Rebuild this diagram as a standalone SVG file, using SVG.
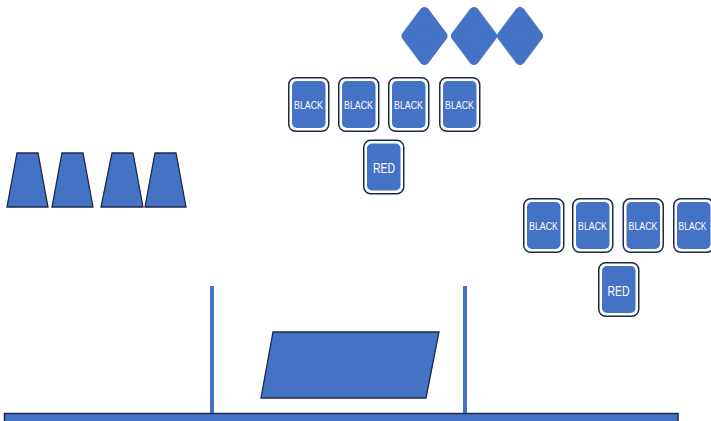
<svg xmlns="http://www.w3.org/2000/svg" width="711" height="421" viewBox="0 0 711 421">
  <style>
    .frame { fill: #ffffff; stroke: #1c2a4a; stroke-width: 1.5; }
    .face { fill: #4472c4; }
    .lbl { fill: #ffffff; font-family: "Liberation Sans", "DejaVu Sans", sans-serif; text-anchor: middle; }
    .small { font-size: 11px; }
    .big { font-size: 14px; }
    .cup { fill: #4472c4; stroke: #1c2a4a; stroke-width: 1.3; }
    .gem { fill: #4472c4; stroke: #4472c4; stroke-width: 10; stroke-linejoin: round; }
    .post { stroke: #4472c4; stroke-width: 4; }
  </style>
  <defs>
    <g id="card">
      <rect class="frame" x="0.75" y="0.75" width="40" height="53.5" rx="7"/>
      <rect class="face" x="4" y="4" width="33.5" height="47" rx="5"/>
    </g>
  </defs>

  <!-- diamonds -->
  <g id="diamonds">
    <polygon class="gem" points="424.5,12 442.5,36 424.5,60 406.5,36"/>
    <polygon class="gem" points="474,12 492,36 474,60 456,36"/>
    <polygon class="gem" points="520,12 538,36 520,60 502,36"/>
  </g>

  <!-- upper card row -->
  <g id="card-top-1"><use href="#card" x="288" y="77"/><text class="lbl small" x="308.5" y="108.5" textLength="29" lengthAdjust="spacingAndGlyphs">BLACK</text></g>
  <g id="card-top-2"><use href="#card" x="338" y="77"/><text class="lbl small" x="358.5" y="108.5" textLength="29" lengthAdjust="spacingAndGlyphs">BLACK</text></g>
  <g id="card-top-3"><use href="#card" x="388" y="77"/><text class="lbl small" x="408.5" y="108.5" textLength="29" lengthAdjust="spacingAndGlyphs">BLACK</text></g>
  <g id="card-top-4"><use href="#card" x="439" y="77"/><text class="lbl small" x="459.5" y="108.5" textLength="29" lengthAdjust="spacingAndGlyphs">BLACK</text></g>
  <g id="card-top-red"><use href="#card" x="363" y="139.5"/><text class="lbl big" x="384" y="173" textLength="22" lengthAdjust="spacingAndGlyphs">RED</text></g>

  <!-- right card row -->
  <g id="card-right-1"><use href="#card" x="523" y="198"/><text class="lbl small" x="543.5" y="229.5" textLength="29" lengthAdjust="spacingAndGlyphs">BLACK</text></g>
  <g id="card-right-2"><use href="#card" x="572" y="198"/><text class="lbl small" x="592.5" y="229.5" textLength="29" lengthAdjust="spacingAndGlyphs">BLACK</text></g>
  <g id="card-right-3"><use href="#card" x="622.5" y="198"/><text class="lbl small" x="643" y="229.5" textLength="29" lengthAdjust="spacingAndGlyphs">BLACK</text></g>
  <g id="card-right-4"><use href="#card" x="673" y="198"/><text class="lbl small" x="692.5" y="229.5" textLength="28" lengthAdjust="spacingAndGlyphs">BLACK</text></g>
  <g id="card-right-red"><use href="#card" x="598" y="262"/><text class="lbl big" x="618.5" y="295.5" textLength="22" lengthAdjust="spacingAndGlyphs">RED</text></g>

  <!-- cups -->
  <g id="cups">
    <polygon class="cup" points="17,153 38,153 48,207 7,207"/>
    <polygon class="cup" points="62,153 83,153 93,207 52,207"/>
    <polygon class="cup" points="112,153 133,153 143,207 101,207"/>
    <polygon class="cup" points="155,153 176,153 186,207 145,207"/>
  </g>

  <!-- table with posts and tray -->
  <g id="table">
    <line class="post" x1="212" y1="286" x2="212" y2="414"/>
    <line class="post" x1="465" y1="286" x2="465" y2="414"/>
    <polygon id="tray" points="273,332 439,332 426,398 261,398" fill="#4472c4" stroke="#1c2a4a" stroke-width="1.3"/>
    <rect id="floor" x="4.5" y="413.5" width="673.5" height="10" fill="#4472c4" stroke="#1c2a4a" stroke-width="1.5"/>
  </g>
</svg>
